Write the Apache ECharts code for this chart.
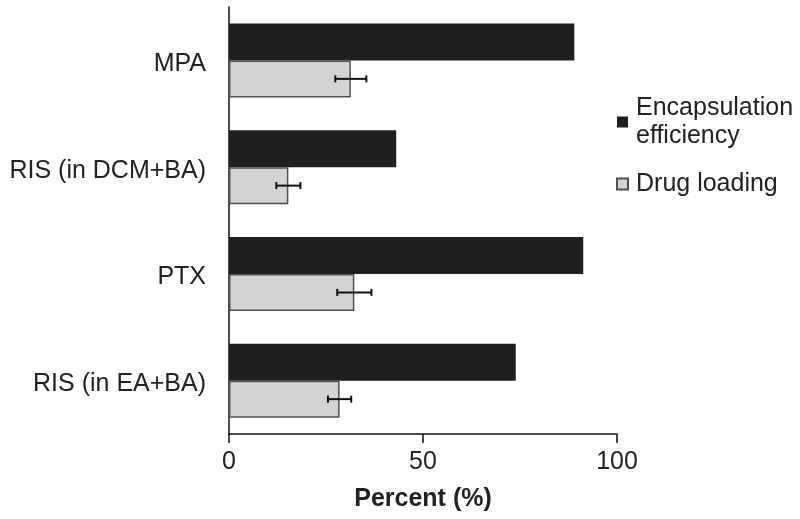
<!DOCTYPE html>
<html><head><meta charset="utf-8">
<script src="https://cdn.jsdelivr.net/npm/echarts@6/dist/echarts.min.js"></script>
<style>html,body{margin:0;padding:0;background:#fff}#c{width:800px;height:519px}</style>
</head><body><div id="c"></div>
<script>
var categories = ['MPA', 'RIS (in DCM+BA)', 'PTX', 'RIS (in EA+BA)'];
var encapsulation = [89.0, 43.1, 91.3, 73.9];
var drugLoading = [31.4, 15.3, 32.3, 28.5];
var drugLoadingErr = [4.0, 3.1, 4.4, 3.0];
var xTicks = [0, 50, 100];
var seriesNames = ['Encapsulation\nefficiency', 'Drug loading'];

var font = '"Liberation Sans", Arial, sans-serif';
var BAR_W = 37;
var chart = echarts.init(document.getElementById('c'));
var errData = drugLoading.map(function (v, i) { return [v - drugLoadingErr[i], v + drugLoadingErr[i], i]; });

chart.setOption({
  animation: false,
  textStyle: { fontFamily: font },
  grid: { left: 229, right: 183, top: 7, bottom: 85 },
  legend: {
    orient: 'vertical', left: 616, top: 94, itemGap: 20, padding: 0,
    itemWidth: 11, itemHeight: 11, icon: 'rect',
    data: seriesNames,
    textStyle: { fontFamily: font, fontSize: 25, color: '#222', lineHeight: 28, padding: [0, 0, 0, 3] }
  },
  xAxis: {
    type: 'value', min: 0, max: 100, interval: 50,
    name: 'Percent (%)', nameLocation: 'middle', nameGap: 53,
    nameTextStyle: { fontFamily: font, fontSize: 25, fontWeight: 'bold', color: '#222' },
    axisLine: { show: true, lineStyle: { color: '#111', width: 1.5 } },
    axisTick: { show: true, length: 9, lineStyle: { color: '#111', width: 1.5 } },
    axisLabel: { fontFamily: font, fontSize: 25, color: '#222', margin: 16,
      formatter: function (v) { return xTicks.indexOf(v) >= 0 ? String(v) : ''; } },
    splitLine: { show: false }
  },
  yAxis: {
    type: 'category', data: categories, inverse: true,
    axisLine: { show: true, lineStyle: { color: '#111', width: 1.5 } },
    axisTick: { show: false },
    axisLabel: { margin: 23,
      formatter: function (v) { return '{a|' + v + '}'; },
      rich: { a: { fontFamily: font, fontSize: 25, color: '#222', padding: [7, 0, 0, 0] } } }
  },
  series: [
    { name: seriesNames[0], type: 'bar', data: encapsulation, barWidth: BAR_W, barGap: '0%',
      itemStyle: { color: '#1f1f1f', borderColor: '#1f1f1f', borderWidth: 0 } },
    { name: seriesNames[1], type: 'bar', data: drugLoading, barWidth: BAR_W, barGap: '0%',
      itemStyle: { color: '#d3d3d3', borderColor: '#505050', borderWidth: 1.5 } },
    { name: 'err', type: 'custom', data: errData, z: 10,
      encode: { x: [0, 1], y: 2 },
      renderItem: function (params, api) {
        var lo = api.coord([api.value(0), api.value(2)]);
        var hi = api.coord([api.value(1), api.value(2)]);
        var y = lo[1] + BAR_W / 2;
        var c = 3.5;
        var st = { stroke: '#111', lineWidth: 2 };
        return { type: 'group', children: [
          { type: 'line', shape: { x1: lo[0], y1: y, x2: hi[0], y2: y }, style: st },
          { type: 'line', shape: { x1: lo[0], y1: y - c, x2: lo[0], y2: y + c }, style: st },
          { type: 'line', shape: { x1: hi[0], y1: y - c, x2: hi[0], y2: y + c }, style: st }
        ] };
      }
    }
  ]
});
</script></body></html>
